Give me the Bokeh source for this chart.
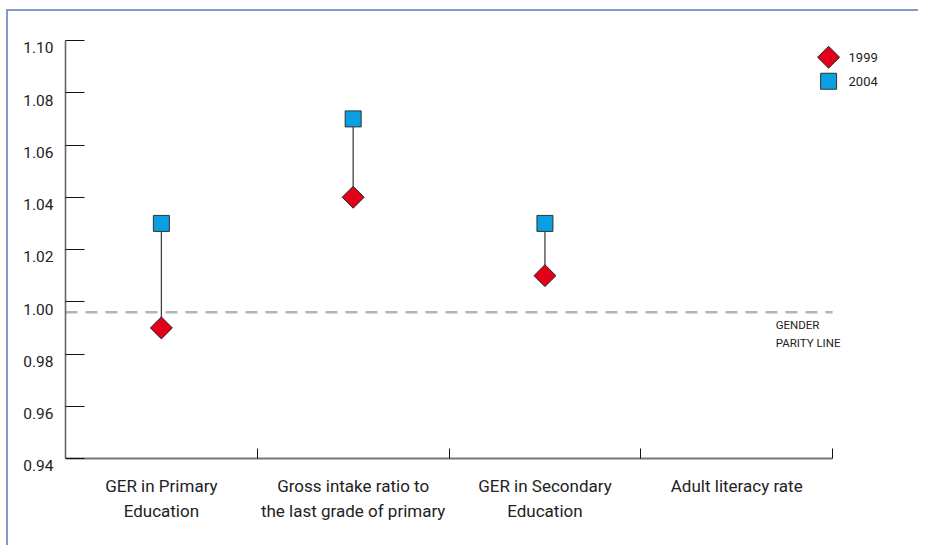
import math
from bokeh.plotting import figure
from bokeh.models import (Range1d, FixedTicker, Label, LinearAxis,
                          NumeralTickFormatter)
from bokeh.embed import file_html
from bokeh.resources import INLINE
from bokeh.core.properties import value

# ---- data ----
categories = ["GER in Primary\nEducation",
              "Gross intake ratio to\nthe last grade of primary",
              "GER in Secondary\nEducation",
              "Adult literacy rate"]
y1999 = [0.99, 1.04, 1.01, float("nan")]
y2004 = [1.03, 1.07, 1.03, float("nan")]
parity = 0.996
parity_label = "GENDER\nPARITY LINE"
yticks = [0.94, 0.96, 0.98, 1.00, 1.02, 1.04, 1.06, 1.08, 1.10]
series_labels = ["1999", "2004"]

# ---- style / layout ----
FONT = "Roboto"
RED = "#e2001a"
BLUE = "#0a9fe0"
TXT = "#222222"
PAD_BELOW = 0.0038             # frame extends ~10px below the x axis
LABEL_SHIFT = 0.0028           # tick labels sit slightly below their ticks
LEG_X, LEG_TX = 3.979, 4.083   # legend marker / text positions (layout)
LEG_Y, LEG_DY = 1.0936, 0.0092

n = len(categories)
xs = [i + 0.5 for i in range(n)]
bounds_x = list(range(n + 1))

y_start = yticks[0] - PAD_BELOW
y_end = yticks[-1]

p = figure(frame_width=840, frame_height=428, output_backend="svg",
           toolbar_location=None,
           x_range=Range1d(0, 4.38), y_range=Range1d(y_start, y_end),
           min_border_left=57, min_border_right=13, min_border_top=29,
           min_border_bottom=77)
p.outline_line_color = None
p.xgrid.visible = False
p.ygrid.visible = False
p.background_fill_color = "white"
p.border_fill_color = "white"
p.styles = {"margin-left": "6px", "margin-top": "9px",
            "border-left": "2px solid #7f9dc8",
            "border-top": "2px solid #7f9dc8"}

# y axis (line + ticks; labels come from the offset axis below)
ya = p.yaxis[0]
ya.ticker = FixedTicker(ticks=yticks, minor_ticks=[])
ya.bounds = (yticks[0], yticks[-1])
ya.major_tick_in = 19
ya.major_tick_out = 0
ya.minor_tick_in = 0
ya.minor_tick_out = 0
ya.axis_line_color = "#666666"
ya.axis_line_width = 1.6
ya.major_tick_line_color = "#111111"
ya.major_tick_line_width = 1
ya.major_label_standoff = 0
ya.major_label_overrides = {t: "" for t in yticks}

# y tick labels (separate axis, offset a few pixels downward)
p.extra_y_ranges = {"lab": Range1d(y_start + LABEL_SHIFT, y_end + LABEL_SHIFT)}
la = LinearAxis(y_range_name="lab", ticker=FixedTicker(ticks=yticks, minor_ticks=[]),
                formatter=NumeralTickFormatter(format="0.00"))
la.axis_line_color = None
la.major_tick_line_color = None
la.minor_tick_line_color = None
la.major_tick_in = 0
la.major_tick_out = 0
la.minor_tick_in = 0
la.minor_tick_out = 0
la.major_label_standoff = 12
la.major_label_text_font = FONT
la.major_label_text_font_size = "15.5px"
la.major_label_text_color = TXT
p.add_layout(la, "left")

# x axis line + category boundary ticks, pinned at the lowest y tick
xa = p.xaxis[0]
xa.fixed_location = yticks[0]
xa.ticker = FixedTicker(ticks=xs, minor_ticks=bounds_x)
xa.major_label_overrides = {x: "" for x in xs}
xa.bounds = (bounds_x[0], bounds_x[-1])
xa.major_tick_in = 0
xa.major_tick_out = 0
xa.minor_tick_in = 10
xa.minor_tick_out = 0
xa.minor_tick_line_color = "#111111"
xa.minor_tick_line_width = 1
xa.axis_line_color = "#777777"
xa.axis_line_width = 2
xa.major_label_standoff = 0

# category labels (second bottom axis, labels only)
xl = LinearAxis(ticker=FixedTicker(ticks=xs, minor_ticks=[]))
xl.major_label_overrides = {x: c for x, c in zip(xs, categories)}
xl.axis_line_color = None
xl.major_tick_line_color = None
xl.minor_tick_line_color = None
xl.major_tick_in = 0
xl.major_tick_out = 0
xl.minor_tick_in = 0
xl.minor_tick_out = 0
xl.major_label_standoff = 7
xl.major_label_text_font = FONT
xl.major_label_text_font_size = "17px"
xl.major_label_text_color = TXT
xl.major_label_text_line_height = 1.29
p.add_layout(xl, "below")

# parity line
p.segment(x0=[bounds_x[0]], y0=[parity], x1=[bounds_x[-1]], y1=[parity],
          line_color="#b4b4b4", line_width=2.5, line_dash="12 8")

# stems
p.segment(x0=xs, y0=y1999, x1=xs, y1=y2004, line_color="#444444", line_width=1.3)

# markers
p.scatter(xs, y1999, marker="square", size=15.5, angle=math.pi / 4,
          fill_color=RED, line_color="#222222", line_width=1)
p.scatter(xs, y2004, marker="square", size=16,
          fill_color=BLUE, line_color="#333333", line_width=1)

# legend (drawn manually so the 1999 marker keeps its diamond shape)
leg_y = [LEG_Y - LEG_DY * i for i in range(len(series_labels))]
p.scatter([LEG_X], [leg_y[0]], marker="square", size=15.5, angle=math.pi / 4,
          fill_color=RED, line_color="#222222", line_width=1)
p.scatter([LEG_X], [leg_y[1]], marker="square", size=16,
          fill_color=BLUE, line_color="#333333", line_width=1)
p.text(x=[LEG_TX] * len(series_labels), y=leg_y, text=series_labels,
       text_font=value(FONT), text_font_size="13px", text_color=TXT,
       text_baseline="middle", text_align="left")

p.add_layout(Label(x=3.703, y=parity, y_offset=-6, text=parity_label,
                   text_align="left", text_baseline="top",
                   text_font=FONT, text_font_size="11.5px",
                   text_line_height=1.3, text_color=TXT))

open("out.html", "w").write(file_html(p, INLINE))
